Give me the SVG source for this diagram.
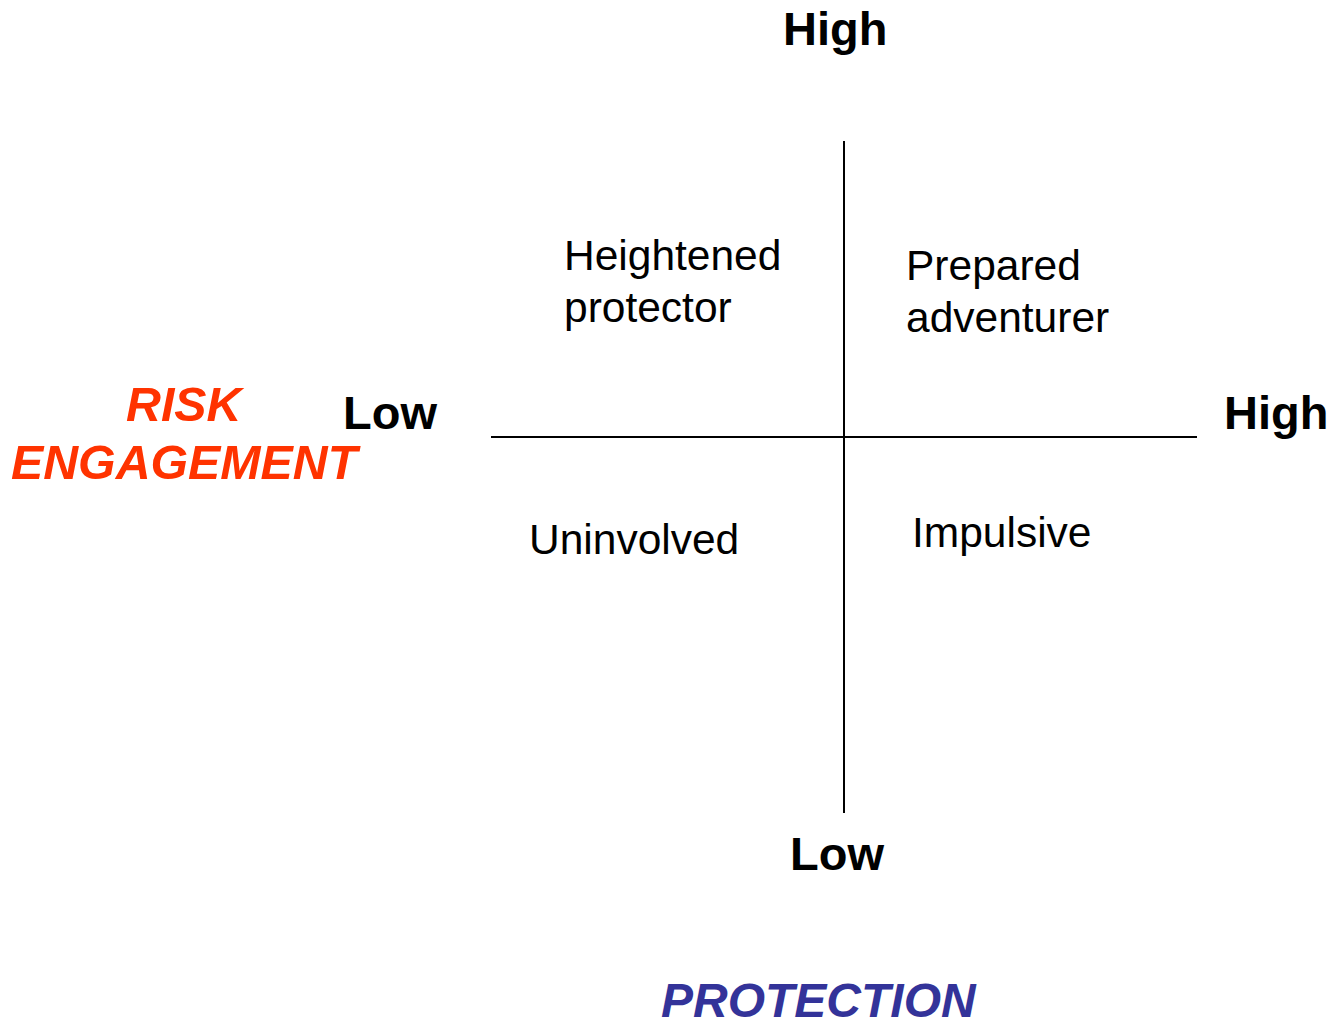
<svg xmlns="http://www.w3.org/2000/svg" width="1334" height="1025" viewBox="0 0 1334 1025">
<style>
.ax{font-family:"Liberation Sans",Arial,sans-serif;font-weight:bold;font-size:47px;fill:#000}
.q{font-family:"Liberation Sans",Arial,sans-serif;font-size:42.5px;fill:#000}
.risk{font-family:"Liberation Sans",Arial,sans-serif;font-weight:bold;font-style:italic;font-size:48.3px;fill:#FF3300}
.prot{font-family:"Liberation Sans",Arial,sans-serif;font-weight:bold;font-style:italic;font-size:48px;fill:#333399}
line{stroke:#000;stroke-width:2}
</style>
<rect width="1334" height="1025" fill="#fff"/>
<g id="connectors">
<line x1="844" y1="141" x2="844" y2="813"/>
<line x1="491" y1="437" x2="1197" y2="437"/>
</g>
<g id="axis-high-top"><text class="ax" x="783" y="45">High</text></g>
<g id="axis-low-bottom"><text class="ax" x="790" y="870">Low</text></g>
<g id="axis-low-left"><text class="ax" x="343" y="429">Low</text></g>
<g id="axis-high-right"><text class="ax" x="1224" y="429">High</text></g>
<g id="risk-engagement">
<text class="risk" x="126" y="421">RISK</text>
<text class="risk" x="11" y="479">ENGAGEMENT</text>
</g>
<g id="protection"><text class="prot" x="661" y="1017">PROTECTION</text></g>
<g id="heightened-protector">
<text class="q" x="564" y="270">Heightened</text>
<text class="q" x="564" y="322">protector</text>
</g>
<g id="prepared-adventurer">
<text class="q" x="906" y="280">Prepared</text>
<text class="q" x="906" y="332">adventurer</text>
</g>
<g id="uninvolved"><text class="q" x="529" y="554">Uninvolved</text></g>
<g id="impulsive"><text class="q" x="912" y="547">Impulsive</text></g>
</svg>
